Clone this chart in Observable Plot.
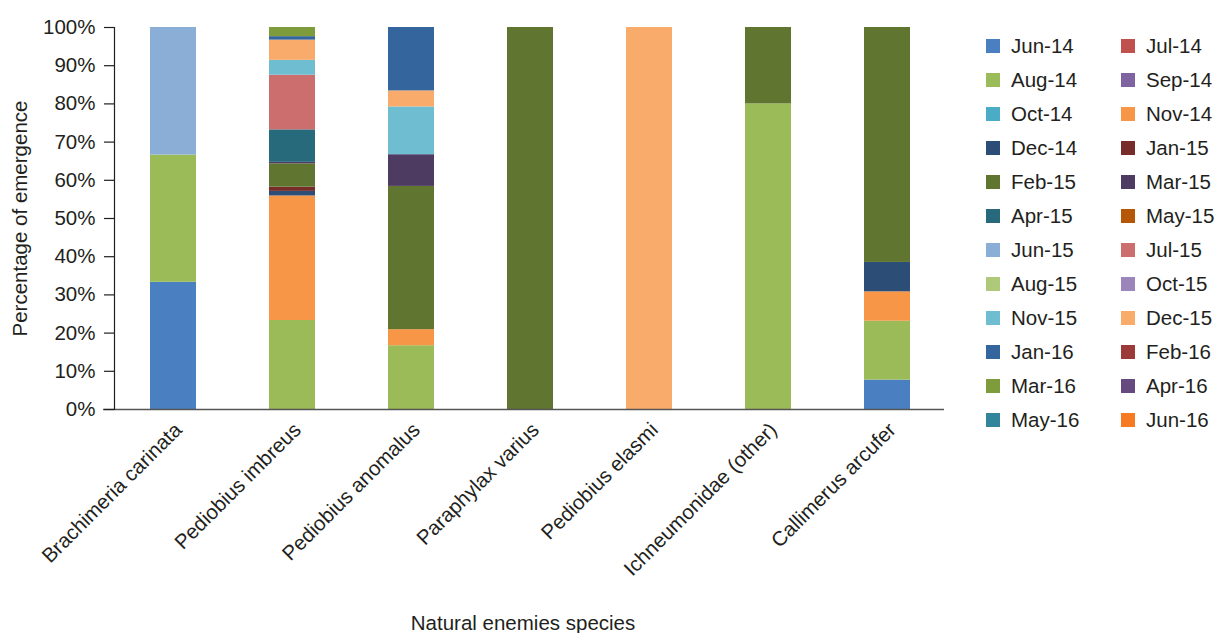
<!DOCTYPE html>
<html>
<head>
<meta charset="utf-8">
<script src="https://cdn.jsdelivr.net/npm/d3@7"></script>
<script src="https://cdn.jsdelivr.net/npm/@observablehq/plot@0.6"></script>
<style>
  html, body { margin: 0; padding: 0; background: #fff; }
  #wrap { position: relative; width: 1219px; height: 633px; font-family: "Liberation Sans", Arial, sans-serif; color: #231f20; }
  #legend { position: absolute; left: 986px; top: 38px; display: grid; grid-template-columns: 135px 100px; grid-auto-rows: 34px; font-size: 20.5px; }
  .item { display: flex; align-items: center; height: 16px; white-space: nowrap; }
  .sw { width: 14px; height: 14px; margin-right: 11px; flex: none; }
</style>
</head>
<body>
<div id="wrap"><div id="legend"></div></div>
<script>
const species = ["Brachimeria carinata", "Pediobius imbreus", "Pediobius anomalus", "Paraphylax varius", "Pediobius elasmi", "Ichneumonidae (other)", "Callimerus arcufer"];
const months = ["Jun-14","Jul-14","Aug-14","Sep-14","Oct-14","Nov-14","Dec-14","Jan-15","Feb-15","Mar-15","Apr-15","May-15","Jun-15","Jul-15","Aug-15","Oct-15","Nov-15","Dec-15","Jan-16","Feb-16","Mar-16","Apr-16","May-16","Jun-16"];
const colors = ["#4a7fc1","#c0504d","#9bbb59","#8064a2","#4bacc6","#f79646","#2c4d75","#772c2a","#5f7530","#4d3b62","#276a7c","#b65708","#8aaed6","#cd6e6e","#afc97a","#9c85bb","#6fbdd1","#f9ab6b","#34659c","#9c3a38","#7f9c3c","#65497f","#31869b","#f57a22"];

// percentage of emergence per species, by month
const brachimeria = {"Jun-14": 33.3, "Aug-14": 33.3, "Jun-15": 33.4};
const imbreus = {"Aug-14": 23.3, "Nov-14": 32.6, "Dec-14": 1.2, "Jan-15": 1.1, "Feb-15": 6.1, "Mar-15": 0.4, "Apr-15": 8.5, "Jul-15": 14.3, "Nov-15": 3.9, "Dec-15": 5.3, "Jan-16": 0.9, "Mar-16": 2.4};
const anomalus = {"Aug-14": 16.7, "Nov-14": 4.2, "Feb-15": 37.5, "Mar-15": 8.3, "Nov-15": 12.5, "Dec-15": 4.2, "Jan-16": 16.6};
const paraphylax = {"Feb-15": 100};
const elasmi = {"Dec-15": 100};
const ichneumonidae = {"Aug-14": 80, "Feb-15": 20};
const callimerus = {"Jun-14": 7.7, "Aug-14": 15.4, "Nov-14": 7.7, "Dec-14": 7.7, "Feb-15": 61.5};

const yTicks = [0,10,20,30,40,50,60,70,80,90,100];
const yTitle = "Percentage of emergence";
const xTitle = "Natural enemies species";

const perSpecies = [brachimeria, imbreus, anomalus, paraphylax, elasmi, ichneumonidae, callimerus];
const data = [];
species.forEach((s, i) => {
  months.forEach(m => {
    const v = perSpecies[i][m];
    if (v) data.push({species: s, month: m, value: v});
  });
});

const font = "Liberation Sans, Arial, sans-serif";
const chart = Plot.plot({
  width: 1219,
  height: 633,
  marginLeft: 114,
  marginRight: 272,
  marginTop: 27,
  marginBottom: 224,
  style: {fontFamily: font, fontSize: "20.5px", color: "#231f20", background: "transparent", overflow: "visible"},
  x: {domain: species, paddingInner: 0.613, paddingOuter: 0.3065, label: null},
  y: {domain: [0, 100], label: null},
  color: {domain: months, range: colors},
  marks: [
    Plot.barY(data, {x: "species", y: "value", fill: "month", order: null}),
    Plot.ruleY([0], {stroke: "#555", strokeWidth: 1.5, insetLeft: -11, insetRight: 3}),
    Plot.frame({anchor: "left", stroke: "#231f20", strokeWidth: 1.2}),
    Plot.axisY({ticks: yTicks, tickFormat: d => d + "%", tickSize: 10, tickPadding: 9, fontSize: 20.5, label: null, stroke: "#231f20", strokeWidth: 1.2}),
    Plot.axisX({tickSize: 0, tickRotate: -45, tickPadding: 17, fontSize: 20.5, label: null, dx: 5}),
    Plot.text([yTitle], {frameAnchor: "left", textAnchor: "middle", rotate: -90, dx: -94, fontSize: 20.5, fill: "#231f20"}),
    Plot.text([xTitle], {frameAnchor: "bottom", dy: 220, dx: -8, fontSize: 20.5, fill: "#231f20"})
  ]
});
document.getElementById("wrap").prepend(chart);

const legend = document.getElementById("legend");
months.forEach((m, i) => {
  const it = document.createElement("div");
  it.className = "item";
  const sw = document.createElement("span");
  sw.className = "sw";
  sw.style.background = colors[i];
  const t = document.createElement("span");
  t.textContent = m;
  it.append(sw, t);
  legend.append(it);
});
</script>
</body>
</html>
